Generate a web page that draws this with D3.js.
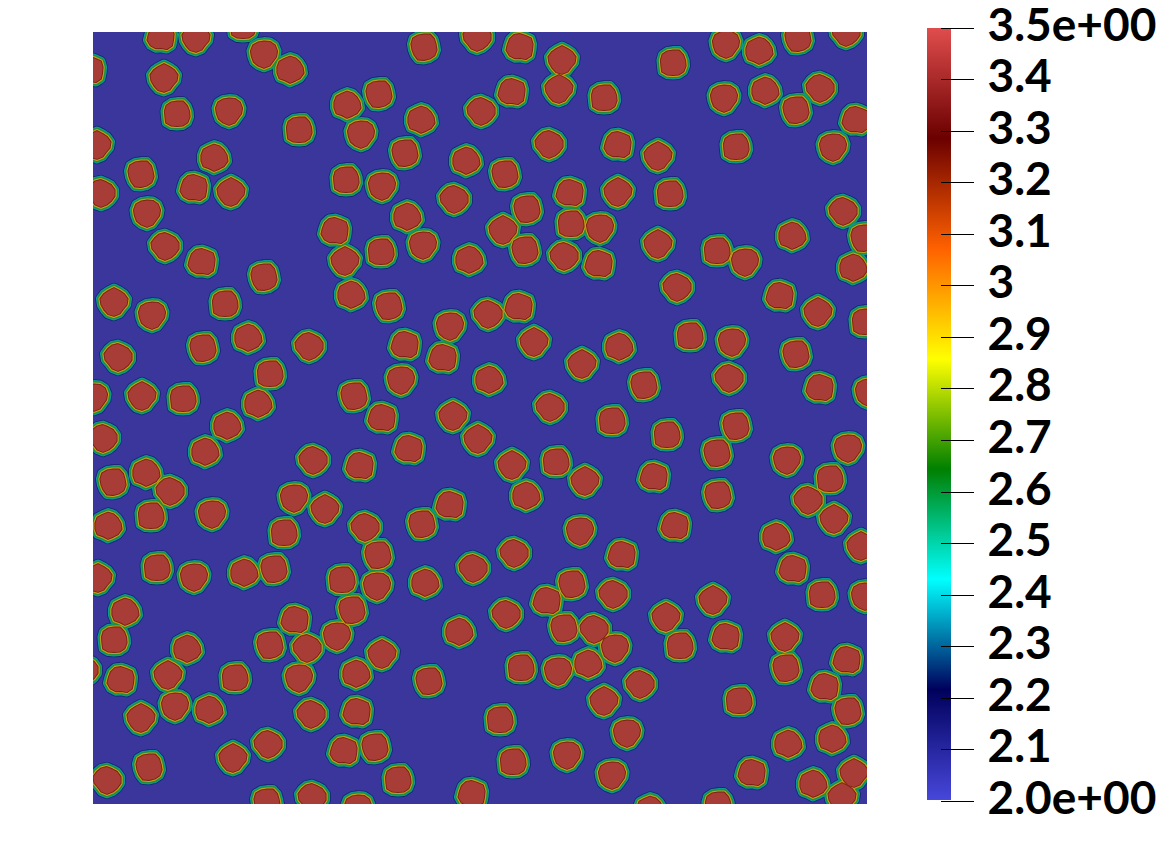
<!DOCTYPE html>
<html><head><meta charset="utf-8">
<script src="https://cdnjs.cloudflare.com/ajax/libs/d3/7.8.5/d3.min.js"></script>
<style>html,body{margin:0;padding:0;background:#fff}svg{display:block}
text{font-family:Lato,sans-serif;font-weight:700;font-size:46px;fill:#000}</style></head>
<body><svg id="c" width="1164" height="859"></svg>
<script>
// Grain centres, in field units (0..774 on both axes, y running downward)
const grainX=[68,103,150,171,197,331,384,427,469,580,633,666,705,753,
-3,71,84,136,254,286,388,419,466,511,631,672,703,727,763,
4,206,268,328,312,456,525,565,643,740,
121,48,8,101,138,253,289,373,412,361,477,525,577,
54,314,434,750,242,410,478,507,699,771,
72,109,252,288,330,376,432,471,506,565,624,652,760,
171,584,687,
21,132,59,258,296,395,426,725,772,
357,155,110,216,312,441,597,639,526,703,
25,350,489,177,308,396,551,636,727,
49,90,1,165,261,457,289,360,519,776,
134,643,10,316,385,574,755,
112,624,220,267,419,463,694,
53,20,77,561,492,737,
201,433,625,715,357,232,
58,119,15,329,272,582,741,191,487,683,
285,421,529,768,
64,101,151,181,380,700,5,249,284,332,479,520,
454,620,729,772,
32,259,413,202,573,
21,244,366,471,501,633,692,587,522,94,177,214,
754,289,428,465,495,693,-9,
28,75,142,206,263,336,547,732,
511,646,82,116,755,218,264,48,407,
534,739,282,175,251,140,420,474,695,
56,14,659,761,305,519,720,
174,219,379,749,625,265,557];
const grainY=[5,6,-6,22,38,15,5,15,28,31,12,19,6,0,
38,46,82,79,73,62,79,60,57,66,66,59,78,56,88,
113,98,102,88,121,112,113,124,115,115,
126,142,161,156,160,148,154,129,142,167,161,160,162,
181,185,177,179,199,198,192,196,204,206,
214,230,229,220,213,228,218,224,232,212,219,230,236,
245,255,264,
270,272,283,263,274,282,275,280,290,
294,306,316,314,313,310,304,310,315,322,
325,326,332,342,348,348,353,346,356,
364,367,365,372,364,375,386,384,389,360,
394,394,406,417,407,403,416,
420,421,428,434,433,430,428,
441,450,459,445,449,447,
466,464,463,468,473,477,
484,482,494,492,495,494,487,501,499,505,
523,521,523,514,
536,545,541,537,536,537,546,548,554,551,552,562,
569,568,563,564,
580,578,582,588,585,
608,604,600,596,597,605,605,614,616,617,613,616,
628,622,636,639,632,636,638,
648,643,646,646,642,649,652,655,
669,669,674,678,679,682,680,686,688,
701,707,715,712,719,726,730,723,712,
735,748,741,741,748,743,752,
770,765,762,765,773,776,778];
// Outline radii (field units) read from a sample of grains, clockwise from the top
const outlineA=[13,12.5,14,13,12.5,14,13.5,11,12.5,13.5,14,12.5,13,13.5];
const outlineB=[14,12.5,13,14,13,11.5,13,14,13.5,12.5,13,14,13,12.5];
const outlineC=[12.5,14,13,12.5,13,13.5,13,12,13,14,12,12.5,13.5,13];
const outlineD=[12.5,13.5,14,13.5,12.5,11.5,13,14,13,13,12.5,13.5,14,13];
const outlineE=[13.5,13,12.5,13,14,13,12,13,11.5,13.5,13,13,13.5,12.5];
const outlineF=[12.5,14,13,12,13,13.5,13,13,14,12.5,12,13,14,13];
const outlineG=[13,12,13,14,14,13,13,14,13,11.5,13,14,13,13];
const outlines=[outlineA,outlineB,outlineC,outlineD,outlineE,outlineF,outlineG];
// Plot shades, from the blue field up to the grain interior
const fieldColor="#3a369c";
const ringColors=["#13256f","#0a9a96","#1f8f3a","#c2a216","#7c1f10"];
const ringOutset=[5.2,4.4,3.3,2,0.9];
const grainColor="#a83c36";
// Colour bar
const barStops=[2,2.2145,2.4285,2.6435,2.8565,3.071,3.2855,3.5];
const barColors=["#4747db","#00005c","#00ffff","#008000","#ffff00","#ff6100","#6b0000","#e04d4d"];
const tickValues=[2,2.1,2.2,2.3,2.4,2.5,2.6,2.7,2.8,2.9,3,3.1,3.2,3.3,3.4,3.5];
const tickLabels=["2.0e+00","2.1","2.2","2.3","2.4","2.5","2.6","2.7","2.8","2.9","3","3.1","3.2","3.3","3.4","3.5e+00"];

const svg=d3.select("#c");
const x=d3.scaleLinear().domain([0,774]).range([93,867]);
const y=d3.scaleLinear().domain([0,772]).range([32,804]);
const defs=svg.append("defs");
defs.append("clipPath").attr("id","pc").append("rect").attr("x",x(0)).attr("y",y(0)).attr("width",x(774)-x(0)).attr("height",y(772)-y(0));
svg.append("rect").attr("x",x(0)).attr("y",y(0)).attr("width",x(774)-x(0)).attr("height",y(772)-y(0)).attr("fill",fieldColor);

const radial=d3.lineRadial().curve(d3.curveLinearClosed)
  .angle((d,j,a)=>j/a.length*2*Math.PI).radius(d=>d);
const grains=grainX.map((gx,i)=>({gx,gy:grainY[i],o:outlines[i%outlines.length]}));
const g=svg.append("g").attr("clip-path","url(#pc)");
function layer(stroke,w,fill){
  g.append("g").selectAll("path").data(grains).join("path")
   .attr("transform",d=>`translate(${x(d.gx)},${y(d.gy)})`)
   .attr("d",d=>radial(d.o))
   .attr("fill",fill).attr("stroke",stroke).attr("stroke-width",w).attr("stroke-linejoin","round");
}
ringColors.forEach((c,k)=>layer(c,ringOutset[k]*2,c));
layer("none",0,grainColor);

// colour bar
const by=d3.scaleLinear().domain([2,3.5]).range([800,28]);
const tickY=d3.scaleLinear().domain([2,3.5]).range([801,27.5]);
const col=d3.scaleLinear().domain(barStops).range(barColors);
const grad=defs.append("linearGradient").attr("id","bar").attr("x1",0).attr("x2",0).attr("y1",1).attr("y2",0);
grad.selectAll("stop").data(barStops).join("stop")
  .attr("offset",d=>(d-2)/1.5).attr("stop-color",d=>col(d));
svg.append("rect").attr("x",927).attr("width",24).attr("y",by(3.5)).attr("height",by(2)-by(3.5)).attr("fill","url(#bar)");
const ax=svg.append("g").selectAll("g").data(tickValues).join("g").attr("transform",d=>`translate(0,${Math.round(tickY(d))+.5})`);
ax.append("line").attr("x1",941).attr("x2",974).attr("stroke","#000").attr("stroke-width",1);
ax.append("text").attr("x",987.5).attr("y",12.5).text((d,i)=>tickLabels[i]);
</script></body></html>
